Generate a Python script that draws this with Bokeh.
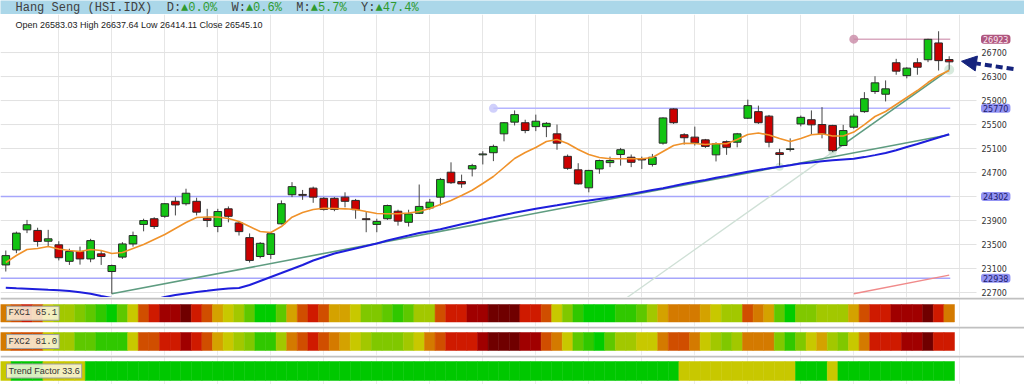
from bokeh.plotting import figure
from bokeh.layouts import column
from bokeh.models import (Range1d, FixedTicker, Grid, Label, Arrow, NormalHead,
                          ColumnDataSource, LinearColorMapper)
from bokeh.transform import transform
from bokeh.core.properties import value
from bokeh.embed import file_html
from bokeh.resources import INLINE

# ---------------- data ----------------
opens = [23160, 23410, 23745, 23735, 23555, 23495, 23220, 23385, 23260, 23345,
         23050, 23290, 23510, 23835, 23930, 23970, 24220, 24180, 24220, 23940,
         23800, 24095, 23860, 23615, 23300, 23335, 23845, 24330, 24335, 24440,
         24270, 24270, 24290, 24235, 23930, 23835, 23930, 24055, 23870, 24020,
         24110, 24290, 24705, 24550, 24760, 24995, 25030, 25345, 25540, 25530,
         25465, 25465, 25345, 24970, 24745, 24445, 24760, 24865, 25000, 24955,
         24930, 24835, 25190, 25760, 25330, 25290, 25245, 24995, 25215, 25205,
         25605, 25715, 25640, 25030, 25085, 25510, 25580, 25500, 25485, 25150,
         25455, 25715, 26050, 26005, 26530, 26315, 26530, 26580, 26860, 26583.03]
highs = [23400, 23715, 23910, 23780, 23745, 23555, 23430, 23465, 23595, 23400,
         23165, 23540, 23715, 23930, 23955, 24190, 24290, 24430, 24280, 24095,
         24095, 24135, 23890, 23685, 23540, 23705, 24235, 24540, 24410, 24465,
         24290, 24290, 24370, 24260, 24050, 23930, 24165, 24080, 24080, 24500,
         24260, 24610, 24870, 24665, 24845, 25055, 25165, 25540, 25735, 25580,
         25665, 25540, 25500, 25000, 24855, 24745, 24915, 24965, 25110, 25000,
         24965, 25010, 25620, 25770, 25355, 25465, 25260, 25205, 25235, 25360,
         25915, 25815, 25660, 25095, 25270, 25650, 25735, 25790, 25495, 25495,
         25680, 26040, 26305, 26235, 26595, 26455, 26605, 26930, 27055, 26637.64]
lows = [23050, 23355, 23690, 23465, 23465, 23235, 23160, 23165, 23205, 23160,
        22680, 23260, 23465, 23720, 23760, 23945, 23985, 24150, 23985, 23790,
        23705, 23870, 23650, 23200, 23270, 23260, 23835, 24290, 24245, 24195,
        24065, 24055, 24120, 23930, 23705, 23705, 23910, 23815, 23800, 24010,
        24080, 24150, 24510, 24445, 24635, 24835, 24890, 25220, 25485, 25355,
        25390, 25290, 25080, 24745, 24500, 24370, 24680, 24790, 24815, 24790,
        24760, 24800, 25165, 25510, 25165, 25150, 25110, 24885, 24995, 25120,
        25595, 25510, 25120, 24815, 25050, 25470, 25330, 25270, 25040, 25140,
        25430, 25695, 26010, 25885, 26330, 26270, 26330, 26540, 26400, 26414.11]
closes = [23315, 23690, 23830, 23550, 23595, 23280, 23385, 23260, 23565, 23300,
          23150, 23510, 23650, 23900, 23800, 24180, 24160, 24355, 24040, 23900,
          24050, 23970, 23715, 23235, 23520, 23680, 24180, 24465, 24320, 24290,
          24085, 24085, 24220, 24080, 23915, 23885, 24150, 23890, 24010, 24135,
          24205, 24585, 24530, 24510, 24815, 25010, 25135, 25530, 25665, 25400,
          25555, 25520, 25190, 24770, 24510, 24735, 24900, 24900, 25080, 24870,
          24910, 24955, 25610, 25530, 25280, 25195, 25135, 25180, 25120, 25345,
          25815, 25530, 25205, 25000, 25095, 25620, 25495, 25345, 25065, 25400,
          25640, 25930, 26195, 26095, 26390, 26440, 26455, 26920, 26565, 26545.10]

ma_fast = [23200, 23317, 23417, 23434, 23467, 23425, 23400, 23384, 23417, 23400,
           23350, 23367, 23434, 23500, 23584, 23667, 23767, 23867, 23950, 23959,
           23959, 23934, 23884, 23800, 23717, 23700, 23800, 23955, 24033, 24084,
           24105, 24100, 24095, 24084, 24050, 24017, 24012, 24012, 24025, 24050,
           24100, 24167, 24234, 24317, 24405, 24517, 24634, 24784, 24934, 25034,
           25117, 25217, 25250, 25184, 25084, 25000, 24950, 24929, 24929, 24929,
           24929, 24950, 25050, 25150, 25189, 25184, 25167, 25179, 25179, 25250,
           25334, 25359, 25325, 25267, 25217, 25267, 25329, 25345, 25309, 25309,
           25375, 25500, 25634, 25717, 25834, 25950, 26067, 26200, 26317, 26400]
ma_slow = [22779, 22770, 22762, 22754, 22745, 22737, 22725, 22704, 22679, 22642,
           22609, 22575, 22559, 22559, 22584, 22625, 22659, 22684, 22709, 22729,
           22750, 22767, 22774, 22825, 22892, 22959, 23025, 23092, 23159, 23234,
           23292, 23350, 23392, 23434, 23475, 23517, 23567, 23609, 23650, 23692,
           23720, 23753, 23797, 23837, 23875, 23917, 23953, 23992, 24029, 24062,
           24095, 24125, 24154, 24184, 24212, 24234, 24259, 24284, 24314, 24344,
           24377, 24409, 24437, 24474, 24514, 24545, 24577, 24612, 24644, 24680,
           24712, 24742, 24770, 24797, 24822, 24850, 24867, 24887, 24904, 24917,
           24929, 24957, 24990, 25025, 25072, 25125, 25175, 25229, 25284, 25337]

# trend lines (candle index, price)
trend_a_x = [10, 89]
trend_a_y = [22680, 25330]
trend_b_x = [78, 89]
trend_b_y = [25040, 26414.11]
trend_b_ext_x = [58, 78]
trend_b_ext_y = [22540, 25040]
channel_x = [80, 89]
channel_y = [22680, 22990]
anchor_x = [73, 78, 89]
anchor_y = [24795, 25040, 26414.11]

# horizontal levels
level_values = [26923, 25770, 24302, 22938]
level_start = [80, 46, -0.5, -0.5]
level_end = [89.1, 89.1, 89.1, 89.1]
level_labels = ["26923", "25770", "24302", "22938"]

y_ticks = [22700, 23100, 23500, 23900, 24300, 24700, 25100, 25500, 25900, 26300, 26700]
y_tick_labels = ["22700", "23100", "23500", "23900", "", "24700", "25100", "25500", "25900", "26300", "26700"]
x_grid = [5, 10, 15, 20, 25, 30, 35, 40, 45, 50, 55, 60, 65, 70, 75, 80, 85, 90]

header_parts = ["Hang Seng (HSI.IDX)", "D:", "▲0.0%", "W:", "▲0.6%", "M:", "▲5.7%", "Y:", "▲47.4%"]
header_cols = [0, 21, 23, 30, 32, 39, 41, 48, 50]
ohlc_text = "Open 26583.03 High 26637.64 Low 26414.11 Close 26545.10"

fxc1 = [7, 8, 9, 8, 5, 4, 4, 3, 2, 1,
        0, 2, 5, 8, 9, 10, 10, 11, 9, 8,
        6, 5, 4, 2, 0, 0, 2, 6, 8, 9,
        8, 6, 6, 5, 3, 3, 2, 1, 2, 4,
        4, 8, 9, 9, 10, 10, 11, 11, 11, 9,
        9, 8, 5, 3, 1, 0, 0, 0, 1, 1,
        2, 4, 6, 7, 7, 7, 6, 5, 4, 4,
        8, 7, 6, 2, 0, 3, 3, 4, 4, 4,
        6, 8, 9, 9, 10, 10, 10, 11, 9, 7]
fxc2 = [7, 8, 8, 8, 5, 4, 4, 2, 2, 1,
        1, 1, 5, 8, 8, 9, 9, 10, 9, 8,
        6, 5, 4, 3, 1, 1, 4, 7, 8, 9,
        8, 7, 6, 5, 4, 3, 3, 3, 4, 5,
        7, 8, 9, 9, 9, 10, 11, 11, 11, 10,
        10, 8, 7, 5, 2, 1, 0, 2, 4, 4,
        5, 5, 7, 8, 8, 7, 5, 4, 3, 4,
        7, 7, 7, 3, 1, 3, 5, 6, 4, 3,
        5, 7, 9, 9, 9, 10, 10, 11, 9, 9]
trend_state = [0, 1, 1, 1, 0, 0, 0, 0, 1, 1,
               1, 1, 1, 1, 1, 1, 1, 1, 1, 1,
               1, 1, 1, 1, 1, 1, 1, 1, 1, 1,
               1, 1, 1, 1, 1, 1, 1, 1, 1, 1,
               1, 1, 1, 1, 1, 1, 1, 1, 1, 1,
               1, 1, 1, 1, 1, 1, 1, 1, 1, 1,
               1, 1, 1, 1, 0, 0, 0, 0, 0, 0,
               0, 0, 0, 0, 0, 1, 1, 1, 0, 1,
               1, 1, 1, 1, 1, 1, 1, 1, 1, 1]
fxc1_label = "FXC1 65.1"
fxc2_label = "FXC2 81.0"
trend_label = "Trend Factor 33.6"

# ---------------- layout constants ----------------
W = 1024
PX = 10.6          # pixels per candle
X0 = -0.5
X_END = X0 + W / PX


def xi(px):
    """candle-index coordinate of a horizontal pixel position"""
    return X0 + px / PX


n = len(opens)
idx = list(range(n))

GREEN = "#12c412"
RED = "#cc0000"
NAVY = "#15237d"


def bare(fig):
    fig.outline_line_color = None
    fig.grid.visible = False
    return fig


# ---------------- header ----------------
hd = bare(figure(width=W, height=14, x_range=Range1d(0, W), y_range=Range1d(0, 14),
                 output_backend="svg", toolbar_location=None,
                 x_axis_location=None, y_axis_location=None, min_border=0))
hd.background_fill_color = "#abd7e9"
hd.border_fill_color = "#abd7e9"
hx = [15 + 7.2 * c for c in header_cols]
hcol = ["#404040", "#404040", "#2f9a2f", "#404040", "#2f9a2f", "#404040", "#2f9a2f", "#404040", "#2f9a2f"]
hd.text(x=hx, y=[6.5] * len(hx), text=header_parts, text_color=hcol,
        text_font=value("Liberation Mono"), text_font_size="12px", text_baseline="middle")

# ---------------- main chart ----------------
p = bare(figure(width=W, height=283, x_range=Range1d(X0, X_END), y_range=Range1d(22617, 27334),
                output_backend="svg", toolbar_location=None,
                x_axis_location=None, y_axis_location=None, min_border=0))
p.add_layout(Grid(dimension=0, ticker=FixedTicker(ticks=x_grid), grid_line_color="#e6e6e6"))
# horizontal grid lines, ending before the price scale
p.segment(x0=[X0] * len(y_ticks), y0=y_ticks, x1=[xi(976)] * len(y_ticks), y1=y_ticks,
          line_color="#e2e2e2", line_width=1)
# price scale
p.text(x=[xi(981)] * len(y_ticks), y=y_ticks, text=y_tick_labels, text_font=value("DejaVu Sans"),
       text_font_size="8px", text_color="#333333", text_baseline="middle")

# horizontal levels
lv_col = ["#d9a9c0", "#b4b4ff", "#a6a6fb", "#a6a6fb"]
p.segment(x0=level_start, y0=level_values, x1=level_end, y1=level_values,
          line_color=lv_col, line_width=1.5)
p.scatter(x=[80, 46], y=[26923, 25770], size=9, fill_color=["#c98aa6", "#c4c4fa"],
          fill_alpha=0.8, line_color=None)

# trend lines
p.line(trend_b_ext_x, trend_b_ext_y, line_color="#cfe0d6", line_width=1.3)
p.line(trend_a_x, trend_a_y, line_color="#5e9c80", line_width=1.6)
p.line(trend_b_x, trend_b_y, line_color="#5e9c80", line_width=1.6)
p.line(channel_x, channel_y, line_color="#f08a8a", line_width=1.5)
p.scatter(x=anchor_x, y=anchor_y, size=[8, 8, 10], fill_color="#bcdcc6", fill_alpha=0.6, line_color=None)

# slow moving average
p.line(idx, ma_slow, line_color="#1e1edc", line_width=2)

# candles
src = ColumnDataSource(dict(
    x=idx, h=highs, l=lows,
    top=[max(o, c) for o, c in zip(opens, closes)],
    bot=[min(o, c) for o, c in zip(opens, closes)],
    col=[GREEN if c >= o else RED for o, c in zip(opens, closes)],
))
p.segment(x0="x", y0="h", x1="x", y1="l", source=src, line_color="#444444", line_width=1)
p.vbar(x="x", width=0.72, top="top", bottom="bot", fill_color="col",
       line_color="#2a2a2a", line_width=1, source=src)

# fast moving average
p.line(idx, ma_fast, line_color="#f0922a", line_width=1.6)

p.text(x=[xi(15)], y=[27159], text=[ohlc_text], text_font=value("Liberation Sans"),
       text_font_size="9px", text_color="#222222", text_baseline="middle")

# price tags on the price scale
tag_bg = ["#b0567f", "#9393f3", "#9393f3", "#9393f3"]
tag_fg = ["#fbe9f1", "#1b1b6b", "#1b1b6b", "#1b1b6b"]
for v, t, bg, fg in zip(level_values, level_labels, tag_bg, tag_fg):
    p.add_layout(Label(x=xi(980.5), y=v, text=t, text_font="DejaVu Sans", text_font_size="8px",
                       text_color=fg, text_baseline="middle", background_fill_color=bg,
                       padding=(2, 1), border_radius=3))

p.add_layout(Arrow(end=NormalHead(size=15, fill_color=NAVY, line_color=NAVY),
                   x_start=xi(1013), y_start=26425, x_end=xi(961), y_end=26555,
                   line_color=NAVY, line_width=4, line_dash="7 4"))

# ---------------- indicator strips ----------------
heat_palette = ["#00cc00", "#30c800", "#5ec800", "#80c800", "#a2c800", "#c8c800",
                "#d4a200", "#d47a00", "#d04e00", "#cf1a00", "#a00000", "#700000"]
heat_map = LinearColorMapper(palette=heat_palette, low=-0.5, high=11.5)
trend_map = LinearColorMapper(palette=["#c8c800", "#00c800"], low=-0.5, high=1.5)


def make_strip(height, top_px, bar_h, vals, mapper, label, font, fsize):
    s = bare(figure(width=W, height=height, x_range=Range1d(X0, X_END), y_range=Range1d(0, height),
                    output_backend="svg", toolbar_location=None,
                    x_axis_location=None, y_axis_location=None, min_border=0))
    s.add_layout(Grid(dimension=0, ticker=FixedTicker(ticks=x_grid), grid_line_color="#ececec"))
    s.line([X0, X_END], [height - 1, height - 1], line_color="#c0c0c0", line_width=2)
    top = height - top_px
    ss = ColumnDataSource(dict(left=[i - 0.5 for i in idx], right=[i + 0.5 for i in idx], v=vals))
    s.quad(left="left", right="right", top=top, bottom=top - bar_h, source=ss,
           fill_color=transform("v", mapper), line_color=transform("v", mapper), line_width=0.5)
    s.add_layout(Label(x=xi(6), y=top - bar_h / 2, text=label, text_font=font,
                       text_font_size=fsize, text_color="#333333", text_baseline="middle",
                       background_fill_color="#fbf6e0", background_fill_alpha=0.85,
                       border_line_color="#a0a0a0", padding=2))
    return s


s1 = make_strip(29, 7.0, 17.5, fxc1, heat_map, fxc1_label, "Liberation Mono", "9px")
s2 = make_strip(29, 6.0, 18.0, fxc2, heat_map, fxc2_label, "Liberation Mono", "9px")
s3 = make_strip(29, 6.0, 19.0, trend_state, trend_map, trend_label, "Liberation Sans", "9px")

layout = column(hd, p, s1, s2, s3, spacing=0)
open("out.html", "w").write(file_html(layout, INLINE))
